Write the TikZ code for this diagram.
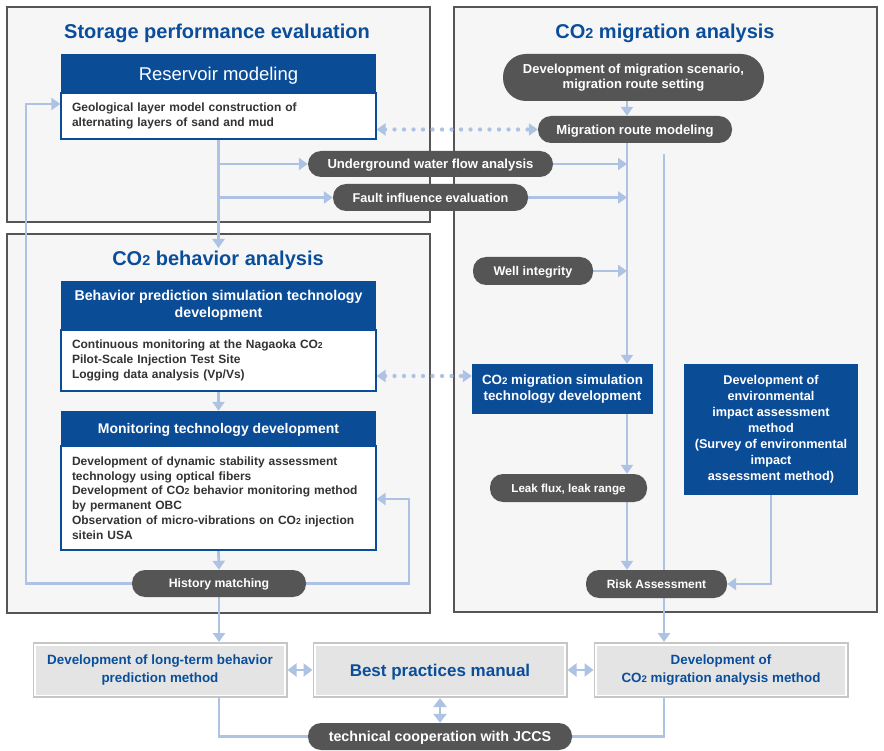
\documentclass[tikz,border=0pt]{standalone}
\usepackage{fontspec}
\setmainfont{Liberation Sans}
\usetikzlibrary{arrows.meta}
\definecolor{hblue}{HTML}{0B4C97}
\definecolor{tblue}{HTML}{0A4E9B}
\definecolor{lb}{HTML}{AEC3E4}
\definecolor{pillg}{HTML}{555555}
\definecolor{panelg}{HTML}{F6F6F6}
\definecolor{panelb}{HTML}{555555}
\definecolor{txt}{HTML}{333333}
\definecolor{boxg}{HTML}{E4E4E4}
\definecolor{boxb}{HTML}{C6C6C6}
\newcommand\cotwo{CO\scalebox{0.72}{2}}
\pgfdeclarelayer{bg}\pgfdeclarelayer{lines}\pgfsetlayers{bg,lines,main}
\begin{document}
\begin{tikzpicture}[x=1pt,y=-1pt,
 panel/.style={draw=panelb, fill=panelg, line width=2pt, inner sep=0pt},
 title/.style={text=tblue, font=\fontsize{20}{23}\selectfont\bfseries, inner sep=0pt, capht=14.3pt},
 capht/.style={text height=#1, text depth=0pt},
 hdr/.style={fill=hblue, text=white, inner sep=0pt, align=center},
 body/.style={draw=hblue, fill=white, line width=1.2pt, inner xsep=11pt, inner ysep=0pt, align=left, text=txt, font=\fontsize{12}{14.8}\selectfont\bfseries},
 pill/.style={fill=pillg, text=white, rounded corners=13pt, inner sep=0pt, align=center, font=\fontsize{13}{14.7}\selectfont\bfseries},
 bluebox/.style={fill=hblue, text=white, inner sep=0pt, align=center, font=\fontsize{13.4}{16.3}\selectfont\bfseries},
 outbox/.style={draw=boxb, line width=3pt, fill=boxg, text=tblue, inner sep=0pt, align=center, minimum width=252pt, minimum height=53pt},
 inner/.style={draw=white, line width=1.8pt},
 conn/.style={draw=lb, line width=2.8pt},
 arr/.style={conn, -{Triangle[width=12pt,length=9pt]}},
 darr/.style={conn, {Triangle[width=13pt,length=9pt]}-{Triangle[width=13pt,length=9pt]}},
 dotarr/.style={draw=lb, line width=4.3pt, line cap=round, dash pattern=on 0pt off 9.5pt, {Triangle[width=12pt,length=9pt]}-{Triangle[width=12pt,length=9pt]}},
]
\useasboundingbox (0,0) rectangle (884,751);
\begin{pgfonlayer}{bg}
\fill[white] (0,0) rectangle (884,751);
\node[panel, minimum width=423pt, minimum height=215pt] (p1) at (218.5,114.5) {};
\node[panel, minimum width=423pt, minimum height=379pt] (p2) at (218.5,423.5) {};
\node[panel, minimum width=423pt, minimum height=605pt] (p3) at (665.5,309.5) {};
\end{pgfonlayer}

\node[title] (t1) at (217,31) {Storage performance evaluation};
\node[title] (t2) at (218,258) {\cotwo\ behavior analysis};
\node[title] (t3) at (665,31) {\cotwo\ migration analysis};

\node[body, text width=293pt, minimum height=46pt] (rb) at (218.5,116) {Geological layer model construction of\\alternating layers of sand and mud};
\node[hdr, minimum width=315pt, minimum height=38pt, font=\fontsize{18.5}{21}\selectfont, capht=13.3pt] (rh) at (218.5,73.5) {Reservoir modeling};

\node[body, text width=293pt, minimum height=61pt] (bb) at (218.5,360.5) {Continuous monitoring at the Nagaoka \cotwo\\Pilot-Scale Injection Test Site\\Logging data analysis (Vp/Vs)};
\node[hdr, minimum width=315pt, minimum height=49pt, font=\fontsize{14.2}{16.5}\selectfont\bfseries] (bh) at (218.5,305.5) {Behavior prediction simulation technology\\development};

\node[body, text width=293pt, minimum height=104pt] (mb) at (218.5,498) {Development of dynamic stability assessment\\technology using optical fibers\\Development of \cotwo\ behavior monitoring method\\by permanent OBC\\Observation of micro-vibrations on \cotwo\ injection\\sitein USA};
\node[hdr, minimum width=315pt, minimum height=34pt, font=\fontsize{14}{16}\selectfont\bfseries, capht=10pt] (mh) at (218.5,428) {Monitoring technology development};

\node[pill, minimum width=174pt, minimum height=27pt, font=\fontsize{12.3}{14}\selectfont\bfseries, capht=8.8pt] (hm) at (219,583.5) {History matching};

\node[pill, minimum width=245pt, minimum height=26pt, font=\fontsize{13.1}{14.7}\selectfont\bfseries, capht=9.4pt] (uw) at (430.5,164) {Underground water flow analysis};
\node[pill, minimum width=195pt, minimum height=27pt, font=\fontsize{12.7}{14.7}\selectfont\bfseries, capht=9.1pt] (fi) at (430.5,197.5) {Fault influence evaluation};
\node[pill, minimum width=261pt, minimum height=47pt, rounded corners=23pt] (ms) at (633.5,77.5) {Development of migration scenario,\\migration route setting};
\node[pill, minimum width=194pt, minimum height=27pt, font=\fontsize{13.1}{14.7}\selectfont\bfseries, capht=9.4pt] (mr) at (635,129.5) {Migration route modeling};
\node[pill, minimum width=120pt, minimum height=28pt, font=\fontsize{12.6}{14}\selectfont\bfseries, capht=9pt] (wi) at (533,271) {Well integrity};
\node[bluebox, minimum width=181pt, minimum height=50pt] (sim) at (562.5,389) {\cotwo\ migration simulation\\technology development};
\node[pill, minimum width=157pt, minimum height=28pt, font=\fontsize{11.6}{13}\selectfont\bfseries, capht=8.3pt] (lf) at (568.5,488) {Leak flux, leak range};
\node[pill, minimum width=141pt, minimum height=28pt, font=\fontsize{12}{14}\selectfont\bfseries, capht=8.6pt] (ra) at (656.5,584) {Risk Assessment};
\node[bluebox, minimum width=174pt, minimum height=131pt, font=\fontsize{12.7}{16}\selectfont\bfseries] (env) at (771,429.5) {Development of\\environmental\\impact assessment\\method\\(Survey of environmental\\impact\\assessment method)};

\node[outbox, font=\fontsize{13.4}{18}\selectfont\bfseries] (bl) at (160,670) {Development of long-term behavior\\prediction method};
\node[outbox, font=\fontsize{17}{20}\selectfont\bfseries, capht=12.2pt] (bc) at (440,670) {Best practices manual};
\node[outbox, font=\fontsize{13.4}{18}\selectfont\bfseries] (br) at (721,670) {Development of\\\cotwo\ migration analysis method};
\foreach \b in {bl,bc,br}
  \draw[inner] ([shift={(2.6,2.6)}]\b.north west) rectangle ([shift={(-2.6,-2.6)}]\b.south east);
\node[pill, minimum width=264pt, minimum height=27pt, font=\fontsize{14.3}{16}\selectfont\bfseries, capht=10.2pt] (jc) at (440,736.5) {technical cooperation with JCCS};

\begin{pgfonlayer}{lines}
\coordinate (t2in) at (218.5,248);
\draw[arr] (rb.south) -- (t2in);
\draw[arr] (rb.south |- uw.west) -- (uw.west);
\draw[arr] (rb.south |- fi.west) -- (fi.west);
\coordinate (xA) at (627,0);
\draw[arr] (uw.east) -- (uw.east -| xA);
\draw[arr] (fi.east) -- (fi.east -| xA);
\draw[arr] (wi.east) -- (wi.east -| xA);
\draw[arr] (ms.south -| xA) -- (mr.north -| xA);
\draw[arr] (mr.south -| xA) -- (sim.north -| xA);
\draw[arr] (sim.south -| xA) -- (lf.north -| xA);
\draw[arr] (lf.south -| xA) -- (ra.north -| xA);
\draw[arr] (env.south) -- (env.south |- ra.east) -- (ra.east);
\coordinate (xB) at (664,154);
\draw[arr] (xB) -- (br.north -| xB);
\draw[dotarr] (rb.east |- mr.west) -- (mr.west);
\coordinate (dy) at (0,376);
\draw[dotarr] (bb.east |- dy) -- (sim.west |- dy);
\draw[arr] (bb.south) -- (mh.north);
\draw[arr] (mb.south) -- (hm.north);
\draw[arr] (hm.south) -- (hm.south |- bl.north);
\coordinate (xL) at (26,0);
\coordinate (yR) at (0,104);
\draw[arr] (hm.west) -- (hm.west -| xL) -- (xL |- yR) -- (rb.west |- yR);
\coordinate (xR) at (409,0);
\coordinate (yM) at (0,499);
\draw[arr] (hm.east) -- (hm.east -| xR) -- (xR |- yM) -- (mb.east |- yM);
\draw[darr] (bl.east) -- (bc.west);
\draw[darr] (bc.east) -- (br.west);
\draw[darr] (bc.south) -- (jc.north);
\draw[conn] (hm.south |- bl.south) -- (hm.south |- jc.west) -- (jc.west);
\draw[conn] (xB |- br.south) -- (xB |- jc.east) -- (jc.east);
\end{pgfonlayer}
\end{tikzpicture}
\end{document}
